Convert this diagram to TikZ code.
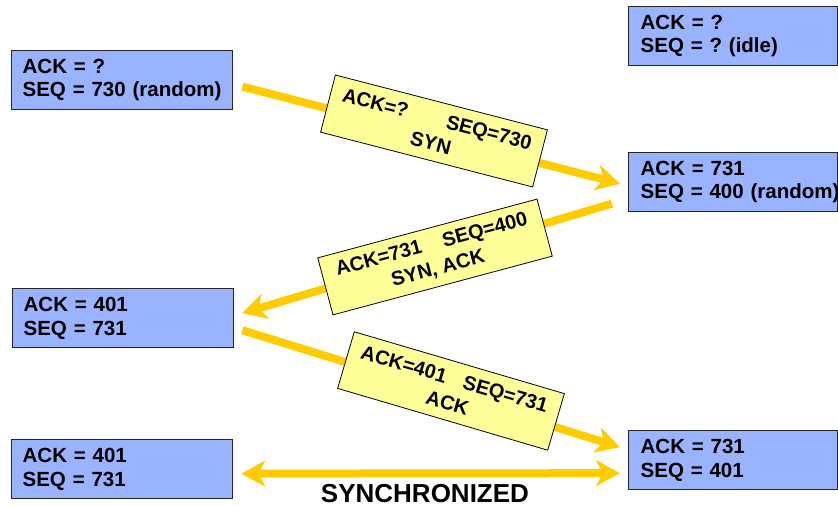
\documentclass[tikz,border=0pt]{standalone}
\usepackage{fontspec}
\setmainfont{Liberation Sans}
\usetikzlibrary{arrows.meta}
\frenchspacing

\definecolor{statefill}{HTML}{99B3FF}
\definecolor{msgfill}{HTML}{FFFF99}
\definecolor{arrowgold}{HTML}{FFCC00}

\tikzset{
    statebox/.style={draw=black!85, line width=1.3pt, fill=statefill, anchor=north west,
        align=left, minimum height=59pt, inner xsep=11pt, text width=199pt,
        font=\fontsize{20.5}{23.5}\selectfont\bfseries},
    peerbox/.style={statebox, inner xsep=12pt, text width=185pt},
    msgbox/.style={draw=black, line width=0.8pt, fill=msgfill, align=center,
        minimum width=219pt, minimum height=59pt,
        font=\fontsize{20}{25}\selectfont\bfseries},
    segarrow/.style={draw=arrowgold, line width=8pt,
        -{Stealth[length=24pt,width=26pt,inset=7pt]}}
}

\begin{document}
\begin{tikzpicture}[x=1pt,y=-1pt]
                \clip (0,0) rectangle (838,506);

                \node[statebox] (a1) at (11,50) {ACK = ?\\SEQ = 730 (random)};
                \node[statebox] (a2) at (12,288) {ACK = 401\\SEQ = 731};
                \node[statebox] (a3) at (11,439) {ACK = 401\\SEQ = 731};

                \node[peerbox] (b1) at (628,6) {ACK = ?\\SEQ = ? (idle)};
                \node[peerbox] (b2) at (628,152) {ACK = 731\\\mbox{SEQ = 400 (random)}};
                \node[peerbox] (b3) at (628,430) {ACK = 731\\SEQ = 401};

                \draw[segarrow] ([shift={(9,6.5)}]a1.east) -- ([shift={(-8,1.5)}]b2.west);
                \draw[segarrow] ([shift={(-16,21.5)}]b2.west) -- ([shift={(8,-5)}]a2.east);
                \draw[segarrow] ([shift={(8,12)}]a2.east) -- ([shift={(-8,-13)}]b3.west);
                \draw[segarrow, {Stealth[length=24pt,width=26pt,inset=7pt]}-{Stealth[length=24pt,width=26pt,inset=7pt]}]
                    ([shift={(8,4.5)}]a3.east) -- ([shift={(-8,13)}]b3.west);

                \node[msgbox, rotate=-14.5] (syn) at (434,131) {ACK=?\hspace{40pt}SEQ=730\\SYN};
                \node[msgbox, rotate=15, minimum width=227pt] (synack) at (435,257) {ACK=731\hspace{22pt}SEQ=400\\SYN, ACK};
                \node[msgbox, rotate=-16.4] (ack) at (451,391) {ACK=401\hspace{18pt}SEQ=731\\ACK};

                \node[font=\fontsize{26}{28}\selectfont\bfseries] (sync) at (425,494) {SYNCHRONIZED};
\end{tikzpicture}
\end{document}
